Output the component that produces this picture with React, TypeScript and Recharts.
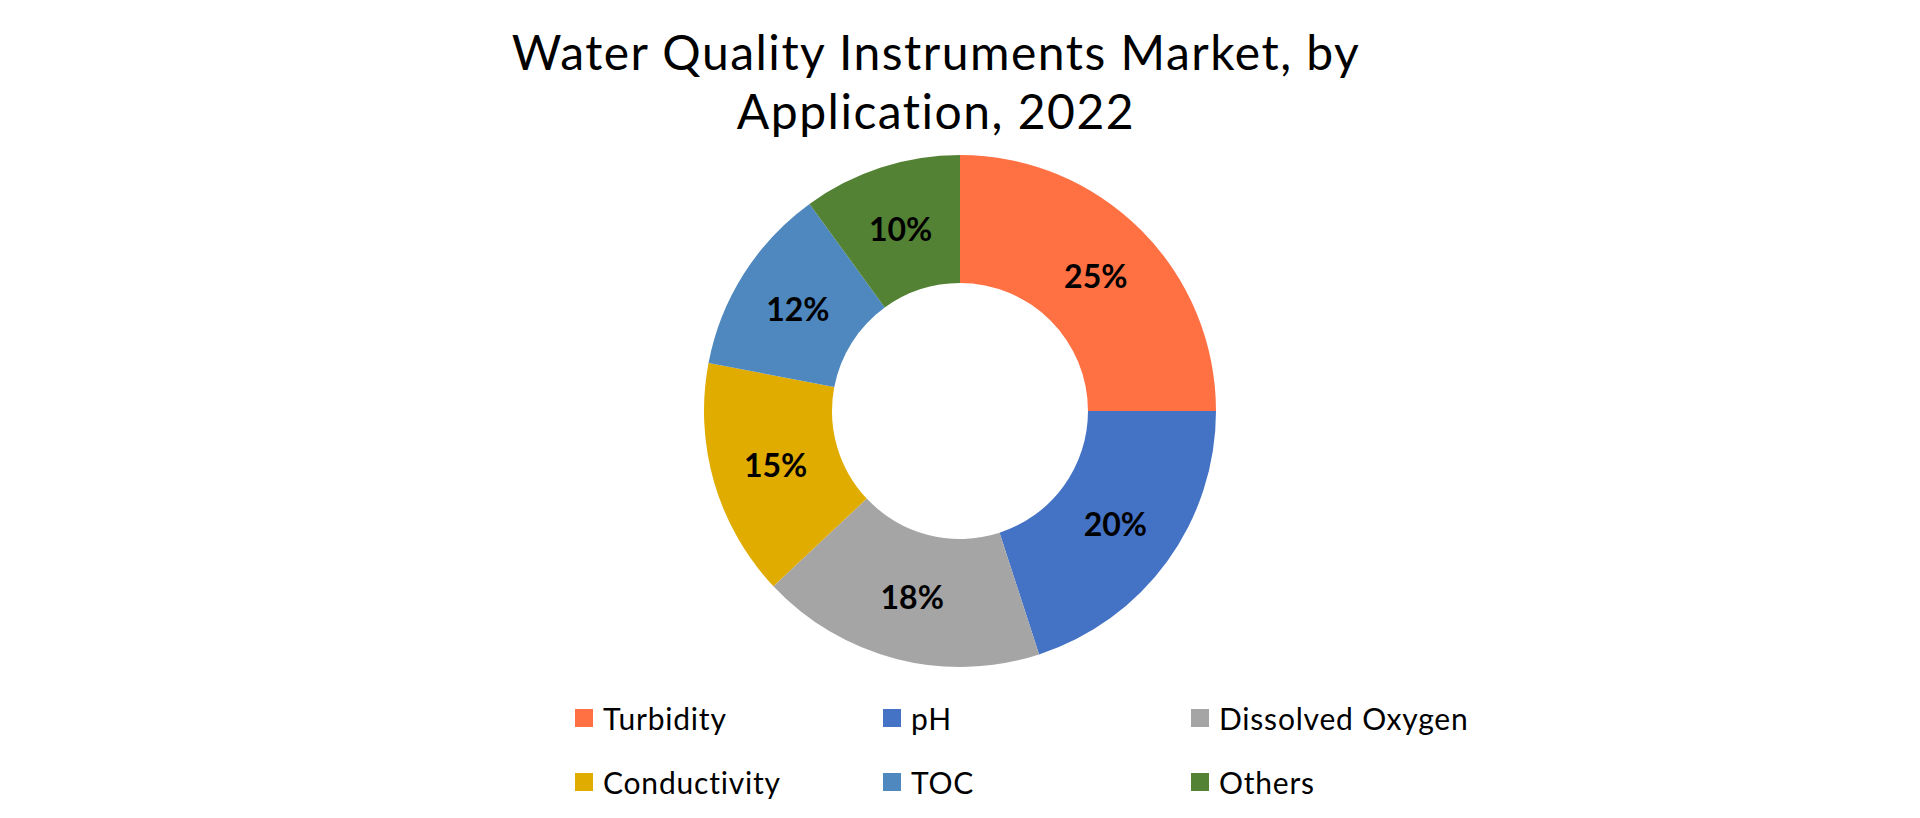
import { Legend, Pie, PieChart, Cell } from "recharts";

const categories = ["Turbidity", "pH", "Dissolved Oxygen", "Conductivity", "TOC", "Others"];
const shares = [25, 20, 18, 15, 12, 10];
const colors = ["#FF7043", "#4472C4", "#A5A5A5", "#E0AC00", "#4E88BE", "#548235"];

const titleLines = ["Water Quality Instruments Market, by", "Application, 2022"];

const data = categories.map((name, i) => ({ name, value: shares[i] }));

const RADIAN = Math.PI / 180;

function renderLabel(props: any) {
  const { cx, cy, midAngle, innerRadius, outerRadius, value } = props;
  const r = innerRadius + (outerRadius - innerRadius) * 0.5;
  const x = cx + r * Math.cos(-midAngle * RADIAN);
  const y = cy + r * Math.sin(-midAngle * RADIAN);
  return (
    <text
      x={x}
      y={y}
      textAnchor="middle"
      dominantBaseline="central"
      fill="#000"
      fontFamily="Lato"
      fontWeight={700}
      fontSize={32}
    >
      {`${value}%`}
    </text>
  );
}

// legend drawn straight from the arrays so the order stays as in the source
function renderLegend() {
  return (
    <div
      style={{
        display: "grid",
        gridTemplateColumns: "308px 308px 308px",
        gridAutoRows: "64px",
        marginLeft: 575,
      }}
    >
      {categories.map((name, i) => (
        <div key={name} style={{ display: "flex", alignItems: "center" }}>
          <span style={{ width: 18, height: 18, background: colors[i], marginRight: 10 }} />
          <span style={{ fontFamily: "Lato", fontSize: 30, letterSpacing: 0.8, color: "#000" }}>{name}</span>
        </div>
      ))}
    </div>
  );
}

export default function App() {
  return (
    <div style={{ position: "absolute", left: 0, top: 0, width: 1920, height: 818, background: "#fff" }}>
      <div
        style={{
          position: "absolute",
          left: 936 - 600,
          top: 22,
          width: 1200,
          textAlign: "center",
          fontFamily: "Lato",
          fontSize: 48,
          letterSpacing: 1.5,
          lineHeight: "59px",
          color: "#000",
        }}
      >
        {titleLines.map((t) => (
          <div key={t}>{t}</div>
        ))}
      </div>
      <PieChart width={1920} height={818} margin={{ top: 0, right: 0, bottom: 0, left: 0 }}>
        <Pie
          data={data}
          dataKey="value"
          nameKey="name"
          cx={960}
          cy={411}
          innerRadius={128}
          outerRadius={256}
          startAngle={90}
          endAngle={-270}
          stroke="none"
          label={renderLabel}
          labelLine={false}
          isAnimationActive={false}
        >
          {data.map((d, i) => (
            <Cell key={d.name} fill={colors[i]} />
          ))}
        </Pie>
        <Legend
          content={renderLegend}
          wrapperStyle={{ position: "absolute", left: 0, top: 686, width: 1920 }}
        />
      </PieChart>
    </div>
  );
}
